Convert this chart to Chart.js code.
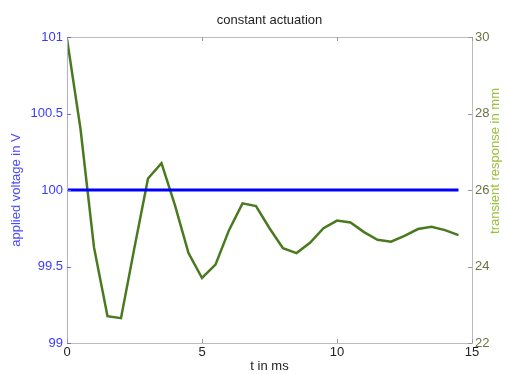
<!DOCTYPE html>
<html>
<head>
<meta charset="utf-8">
<script src="https://cdn.jsdelivr.net/npm/chart.js@4"></script>
<style>
  body { margin: 0; background: #fff; }
  #wrap { width: 507px; height: 374px; }
</style>
</head>
<body>
<div id="wrap"><canvas id="chart"></canvas></div>
<script>
// time samples in ms
var times = [0, 0.5, 1, 1.5, 2, 2.5, 3, 3.5, 4, 4.5, 5, 5.5, 6, 6.5, 7, 7.5,
             8, 8.5, 9, 9.5, 10, 10.5, 11, 11.5, 12, 12.5, 13, 13.5, 14, 14.5];
// applied voltage in V (left axis)
var voltage = [100, 100, 100, 100, 100, 100, 100, 100, 100, 100, 100, 100, 100, 100, 100,
               100, 100, 100, 100, 100, 100, 100, 100, 100, 100, 100, 100, 100, 100, 100];
// transient response in mm (right axis)
var response = [29.95, 27.6, 24.5, 22.7, 22.65, 24.5, 26.3, 26.7, 25.6, 24.35,
                23.7, 24.05, 24.95, 25.65, 25.58, 25.0, 24.48, 24.35, 24.62, 25.0,
                25.2, 25.15, 24.9, 24.7, 24.65, 24.8, 24.98, 25.04, 24.95, 24.82];
var xTicks = [0, 5, 10, 15];
var leftTicks = [99, 99.5, 100, 100.5, 101];
var rightTicks = [22, 24, 26, 28, 30];

function pts(ys) {
  return times.map(function (t, i) { return {x: t, y: ys[i]}; });
}
function plain(v) { return String(v); }

var font = {family: 'Liberation Sans, Arial, sans-serif', size: 13};

// frame, inner tick marks, title and right axis label
var frame = {
  id: 'frame',
  afterDraw: function (chart) {
    var ctx = chart.ctx, a = chart.chartArea, s = chart.scales;
    ctx.save();
    ctx.lineWidth = 1;
    ctx.strokeStyle = '#bbbbbb';
    ctx.strokeRect(a.left + 0.5, a.top + 0.5, a.right - a.left, a.bottom - a.top);
    ctx.strokeStyle = '#aaaaff';
    ctx.beginPath(); ctx.moveTo(a.left + 0.5, a.top); ctx.lineTo(a.left + 0.5, a.bottom); ctx.stroke();
    ctx.strokeStyle = '#999999';
    xTicks.forEach(function (v) {
      var px = Math.round(s.x.getPixelForValue(v)) + 0.5;
      ctx.beginPath(); ctx.moveTo(px, a.bottom); ctx.lineTo(px, a.bottom - 4);
      ctx.moveTo(px, a.top); ctx.lineTo(px, a.top + 4); ctx.stroke();
    });
    ctx.strokeStyle = '#6666ff';
    leftTicks.forEach(function (v) {
      var py = Math.round(s.y.getPixelForValue(v)) + 0.5;
      ctx.beginPath(); ctx.moveTo(a.left, py); ctx.lineTo(a.left + 4, py); ctx.stroke();
    });
    ctx.strokeStyle = '#999999';
    rightTicks.forEach(function (v) {
      var py = Math.round(s.y2.getPixelForValue(v)) + 0.5;
      ctx.beginPath(); ctx.moveTo(a.right, py); ctx.lineTo(a.right - 4, py); ctx.stroke();
    });
    ctx.font = '13px Liberation Sans, Arial, sans-serif';
    ctx.textAlign = 'center';
    ctx.textBaseline = 'middle';
    ctx.fillStyle = '#222222';
    ctx.fillText('constant actuation', (a.left + a.right) / 2, 20);
    ctx.translate(495, 161);
    ctx.rotate(-Math.PI / 2);
    ctx.fillStyle = '#9abf3c';
    ctx.fillText('transient response in mm', 0, 0);
    ctx.restore();
  }
};

var ctx = document.getElementById('chart').getContext('2d');
var chart = new Chart(ctx, {
  type: 'scatter',
  data: {
    datasets: [{
      label: 'applied voltage',
      data: pts(voltage),
      yAxisID: 'y',
      showLine: true,
      borderColor: '#0000ff',
      borderWidth: 3,
      pointRadius: 0,
      tension: 0
    }, {
      label: 'transient response',
      data: pts(response),
      yAxisID: 'y2',
      showLine: true,
      borderColor: '#4a7a1f',
      borderWidth: 2.5,
      pointRadius: 0,
      tension: 0
    }]
  },
  options: {
    responsive: true,
    maintainAspectRatio: false,
    animation: false,
    layout: {padding: {top: 37, left: 0, right: 0, bottom: 0}},
    plugins: {legend: {display: false}, tooltip: {enabled: false}},
    scales: {
      x: {
        type: 'linear', min: 0, max: 15,
        afterBuildTicks: function (s) { s.ticks = xTicks.map(function (v) { return {value: v}; }); },
        afterFit: function (s) { s.height = 31; },
        grid: {display: false, drawTicks: false},
        border: {display: false},
        ticks: {color: '#222222', font: font, padding: 2, maxRotation: 0, callback: plain},
        title: {display: true, text: 't in ms', color: '#222222', font: font, padding: {top: 0, bottom: 0}}
      },
      y: {
        type: 'linear', position: 'left', min: 99, max: 101,
        afterBuildTicks: function (s) { s.ticks = leftTicks.map(function (v) { return {value: v}; }); },
        afterFit: function (s) { s.width = 67; },
        grid: {display: false, drawTicks: false},
        border: {display: false},
        ticks: {color: '#3a3aff', font: font, padding: 4, callback: plain},
        title: {display: true, text: 'applied voltage in V', color: '#4a4aff', font: font, padding: {top: 9, bottom: 0}}
      },
      y2: {
        type: 'linear', position: 'right', min: 22, max: 30,
        afterBuildTicks: function (s) { s.ticks = rightTicks.map(function (v) { return {value: v}; }); },
        afterFit: function (s) { s.width = 35; },
        grid: {display: false, drawTicks: false},
        border: {display: false},
        ticks: {color: '#6b7345', font: font, padding: 3, callback: plain}
      }
    }
  },
  plugins: [frame]
});
</script>
</body>
</html>
